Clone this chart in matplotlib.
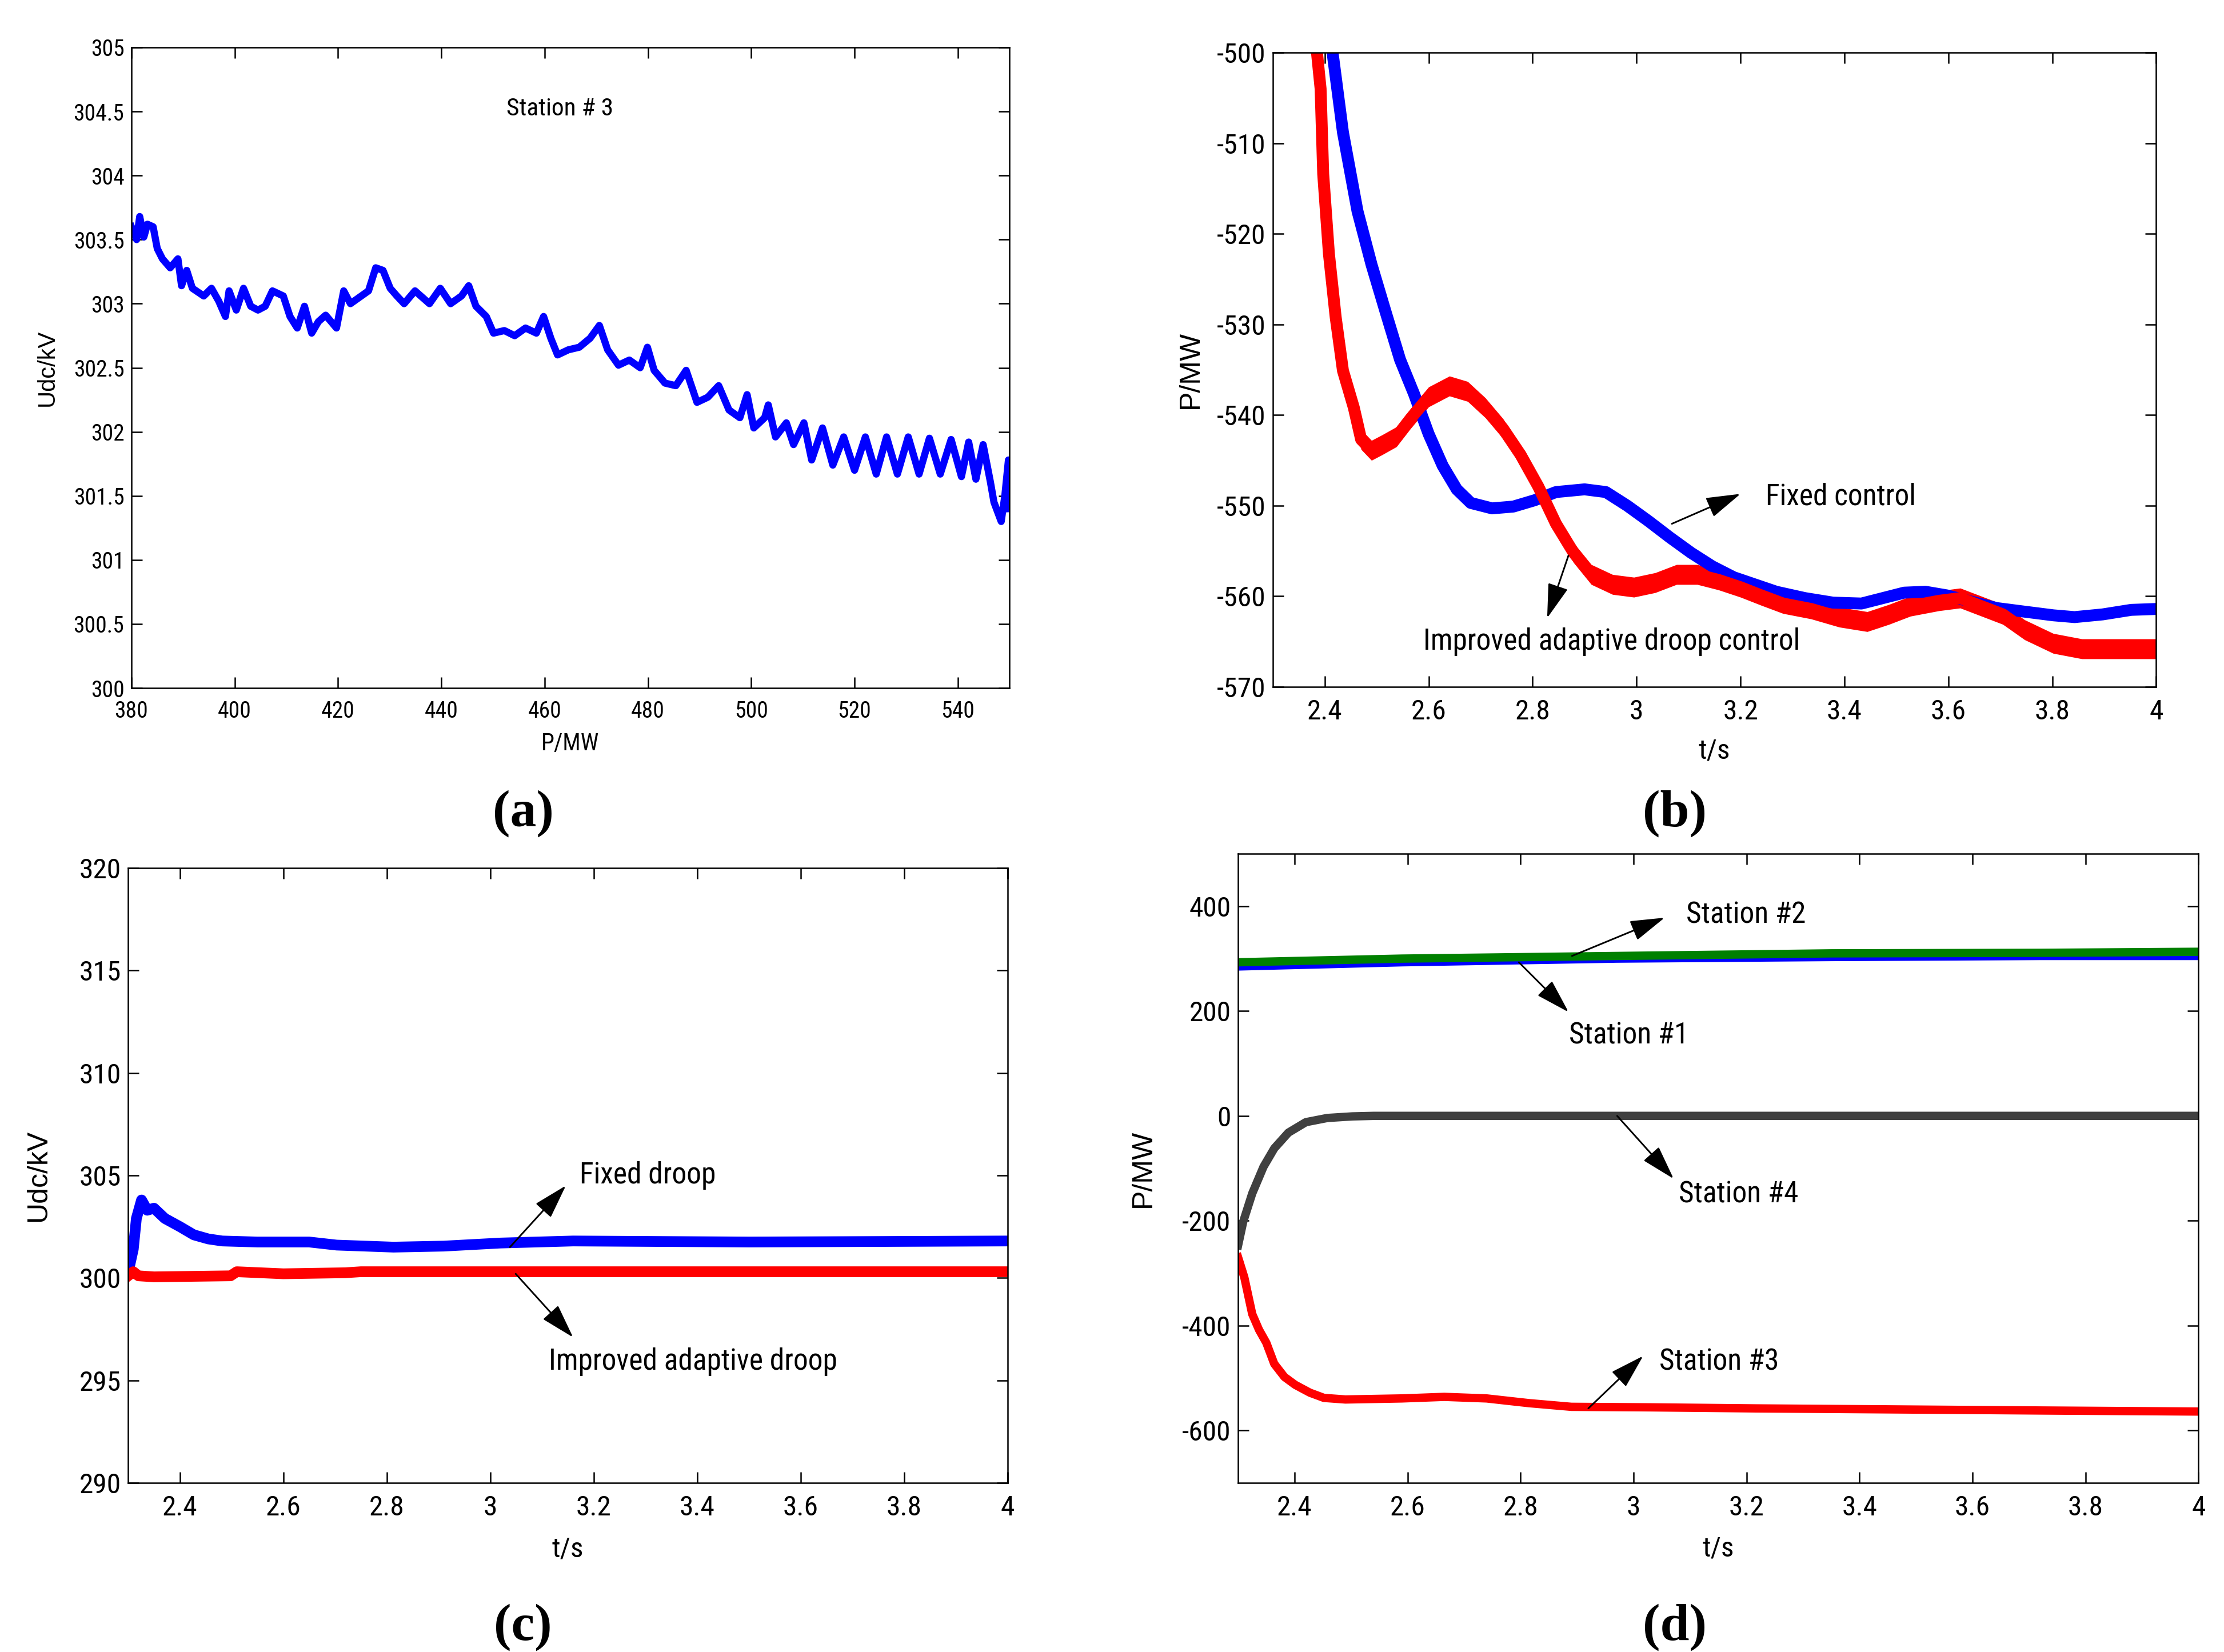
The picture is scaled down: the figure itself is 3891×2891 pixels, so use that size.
import numpy as np
import matplotlib
matplotlib.use('Agg')
import matplotlib.pyplot as plt
from matplotlib import font_manager
from matplotlib.ticker import FuncFormatter

# (a) Udc against P, station 3
a_p = [380, 381, 381.6, 382.4, 383.1, 384.2, 385, 386, 387.5, 389, 389.7, 390.7, 391.8, 394, 395.5,
       396.9, 398.2, 398.9, 400.3, 401.7, 403.1, 404.5, 405.9, 407.3, 409.4, 410.7, 412.1, 413.5, 414.9,
       416.2, 417.6, 419.7, 421.1, 422.4, 424.5, 425.9, 427.3, 428.7, 430.1, 431.4, 432.8, 434.9, 437.7,
       439.8, 441.8, 443.9, 445.3, 446.7, 448.7, 450.1, 452.2, 454.2, 456.3, 458.4, 459.8, 461.2, 462.5,
       464.6, 466.7, 468.8, 470.6, 472.2, 474.3, 476.4, 478.5, 479.9, 481.2, 483.3, 485.4, 487.4, 489.5,
       491.6, 493.7, 495.7, 497.8, 499.2, 500.5, 502.6, 503.3, 504.7, 506.8, 508.2, 510.2, 511.7, 513.8,
       515.8, 517.9, 520, 522.1, 524.2, 526.2, 528.3, 530.4, 532.5, 534.5, 536.6, 538.7, 540.7, 542.1,
       543.5, 544.9, 546.3, 547, 548.4, 549.1, 549.8, 550]
a_u = [303.6, 303.5, 303.68, 303.52, 303.62, 303.6, 303.43, 303.35, 303.28, 303.35, 303.14, 303.26,
       303.12, 303.06, 303.12, 303.02, 302.9, 303.1, 302.95, 303.12, 302.98, 302.95, 302.98, 303.1,
       303.06, 302.9, 302.81, 302.98, 302.77, 302.86, 302.91, 302.81, 303.1, 303.0, 303.06, 303.1,
       303.28, 303.26, 303.12, 303.06, 303.0, 303.1, 303.0, 303.12, 303.0, 303.06, 303.14, 302.98,
       302.9, 302.77, 302.79, 302.75, 302.81, 302.77, 302.9, 302.73, 302.6, 302.64, 302.66, 302.73,
       302.83, 302.64, 302.52, 302.56, 302.5, 302.66, 302.48, 302.38, 302.36, 302.48, 302.23, 302.27,
       302.36, 302.17, 302.11, 302.29, 302.03, 302.11, 302.21, 301.96, 302.07, 301.9, 302.07, 301.78,
       302.03, 301.74, 301.96, 301.7, 301.96, 301.67, 301.96, 301.67, 301.96, 301.67, 301.95, 301.67,
       301.94, 301.65, 301.92, 301.63, 301.9, 301.61, 301.45, 301.3, 301.5, 301.78, 301.4]
a_xticks = [380, 400, 420, 440, 460, 480, 500, 520, 540]
a_yticks = [300, 300.5, 301, 301.5, 302, 302.5, 303, 303.5, 304, 304.5, 305]

# (b) P of station 3, fixed control vs improved adaptive droop
b_t_fixed = [2.405, 2.415, 2.435, 2.463, 2.49, 2.517, 2.545, 2.572, 2.6, 2.627, 2.654, 2.681, 2.722,
             2.763, 2.804, 2.845, 2.9, 2.941, 2.982, 3.023, 3.064, 3.105, 3.146, 3.187, 3.228, 3.269,
             3.324, 3.378, 3.433, 3.474, 3.515, 3.556, 3.597, 3.638, 3.693, 3.747, 3.802, 3.843, 3.897,
             3.952, 4.0]
b_p_fixed = [-494, -500, -508.8, -517.5, -523.4, -528.6, -533.9, -537.7, -542.1, -545.6, -548.2, -549.7,
             -550.3, -550.1, -549.4, -548.5, -548.2, -548.5, -550, -551.7, -553.5, -555.2, -556.7,
             -557.9, -558.7, -559.5, -560.2, -560.7, -560.8, -560.2, -559.6, -559.5, -559.9, -560.5,
             -561.3, -561.7, -562.1, -562.3, -562, -561.5, -561.4]
b_t_adapt = [2.38, 2.385, 2.392, 2.397, 2.408, 2.421, 2.435, 2.456, 2.47, 2.49, 2.51, 2.538, 2.565, 2.6,
             2.64, 2.675, 2.709, 2.743, 2.777, 2.811, 2.845, 2.879, 2.913, 2.954, 2.995, 3.036, 3.077,
             3.117, 3.158, 3.2, 3.24, 3.282, 3.336, 3.39, 3.444, 3.486, 3.527, 3.582, 3.623, 3.664,
             3.705, 3.747, 3.802, 3.857, 3.91, 3.966, 4.0]
b_p_adapt = [-494, -500, -504, -513.4, -522.2, -529.2, -535.1, -539.2, -542.7, -543.9, -543.3, -542.4,
             -540.4, -538, -536.8, -537.4, -539.2, -541.5, -544.4, -547.9, -552, -555.2, -557.6,
             -558.7, -559, -558.5, -557.6, -557.6, -558.2, -559, -559.9, -560.8, -561.4, -562.3,
             -562.8, -562, -561.1, -560.5, -560.2, -561.1, -562, -563.7, -565.2, -565.8, -565.8,
             -565.8, -565.8]
b_yticks = [-570, -560, -550, -540, -530, -520, -510, -500]

# (c) Udc, fixed droop vs improved adaptive droop
c_t_fixed = [2.303, 2.31, 2.316, 2.326, 2.337, 2.35, 2.371, 2.4, 2.427, 2.455, 2.482, 2.55, 2.65,
             2.703, 2.813, 2.91, 3.02, 3.16, 3.5, 4.0]
c_u_fixed = [300.6, 301.4, 302.9, 303.8, 303.3, 303.4, 302.9, 302.5, 302.1, 301.9, 301.8, 301.75,
             301.75, 301.6, 301.5, 301.55, 301.7, 301.8, 301.75, 301.8]
c_t_adapt = [2.3, 2.31, 2.32, 2.35, 2.498, 2.51, 2.6, 2.72, 2.75, 3.0, 3.5, 4.0]
c_u_adapt = [300.1, 300.3, 300.1, 300.05, 300.1, 300.3, 300.2, 300.25, 300.3, 300.3, 300.3, 300.3]
c_yticks = [290, 295, 300, 305, 310, 315, 320]

# (d) P of the four stations
d_t_st12 = [2.3, 2.59, 2.97, 3.35, 3.72, 4.0]
d_p_st1 = [285, 293, 300, 303, 305, 305]
d_p_st2 = [293, 300, 305, 310, 311, 313]
d_t_st4 = [2.3, 2.309, 2.325, 2.345, 2.364, 2.389, 2.42, 2.458, 2.502, 2.54, 4.0]
d_p_st4 = [-247, -202, -148, -97, -62, -32, -12, -4, -1, 0, 0]
d_t_st3 = [2.3, 2.311, 2.325, 2.337, 2.35, 2.364, 2.382, 2.401, 2.427, 2.452, 2.49, 2.59, 2.665,
           2.74, 2.815, 2.89, 3.03, 3.216, 3.47, 3.72, 4.0]
d_p_st3 = [-270, -308, -378, -408, -433, -473, -498, -513, -528, -538, -541, -539, -536, -539,
           -548, -555, -556, -558, -560, -562, -564]
d_yticks = [-600, -400, -200, 0, 200, 400]

t_ticks = [2.4, 2.6, 2.8, 3.0, 3.2, 3.4, 3.6, 3.8, 4.0]

# fonts: MATLAB export looks like Arial Narrow, use the closest one installed
installed = {f.name for f in font_manager.fontManager.ttflist}
NARROW, k = 'Liberation Sans', 0.85
for name, scale in [('Liberation Sans Narrow', 1.0), ('Roboto Condensed', 0.95)]:
    if name in installed:
        NARROW, k = name, scale
        break
plt.rcParams['font.family'] = [NARROW, 'DejaVu Sans']

ARROW = dict(arrowstyle='-|>,head_length=0.5,head_width=0.15', color='k', lw=0.7,
             mutation_scale=25, shrinkA=0, shrinkB=0)
gfmt = FuncFormatter(lambda v, _: '%g' % v)

fig = plt.figure(figsize=(3891 / 300, 2891 / 300), dpi=300)


def style_axes(ax, size):
    ax.tick_params(direction='in', top=True, right=True, length=4.5, width=0.6, labelsize=size * k)
    ax.tick_params(axis='y', pad=3)
    ax.tick_params(axis='x', pad=5)
    ax.xaxis.set_major_formatter(gfmt)
    ax.yaxis.set_major_formatter(gfmt)
    for s in ax.spines.values():
        s.set_linewidth(0.6)


def labels(ax, xlab, ylab, xsize, ysize, xy, yx):
    ax.set_xlabel(xlab, fontsize=xsize * k)
    ax.xaxis.set_label_coords(0.5, xy)
    ax.xaxis.label.set_va('center')
    ax.set_ylabel(ylab, fontsize=ysize, family='Liberation Sans')
    ax.yaxis.set_label_coords(yx, 0.5)
    ax.yaxis.label.set_va('center')


# ---- (a)
ax = fig.add_axes([0.0591, 0.5835, 0.3948, 0.3878])
ax.plot(a_p, a_u, color='b', lw=3)
ax.set_xlim(380, 550)
ax.set_ylim(300, 305)
ax.set_xticks(a_xticks)
ax.set_yticks(a_yticks)
style_axes(ax, 10)
labels(ax, 'P/MW', 'Udc/kV', 10.5, 10, -0.087, -0.096)
ax.text(463, 304.52, 'Station # 3', ha='center', va='center', fontsize=11 * k)

# ---- (b)  ripple drawn as a band round each trace
ax = fig.add_axes([0.5723, 0.5842, 0.3972, 0.384])
tb, pb = np.array(b_t_fixed), np.array(b_p_fixed)
ax.fill_between(tb, pb - 0.5, pb + 0.5, color='b', lw=0)
ax.plot(tb, pb, color='b', lw=5)
tr, pr = np.array(b_t_adapt), np.array(b_p_adapt)
ax.fill_between(tr, pr - 1.1, pr + 1.1, color='r', lw=0)
ax.plot(tr, pr, color='r', lw=5)
ax.set_xlim(2.3, 4)
ax.set_ylim(-570, -500)
ax.set_xticks(t_ticks)
ax.set_yticks(b_yticks)
style_axes(ax, 12.5)
labels(ax, 't/s', 'P/MW', 12.5, 12, -0.101, -0.093)
ax.annotate('', xy=(3.2, -548.7), xytext=(3.068, -552), arrowprops=ARROW)
ax.text(3.248, -549, 'Fixed control', ha='left', va='center', fontsize=13 * k)
ax.annotate('', xy=(2.828, -562.4), xytext=(2.869, -555.5), arrowprops=ARROW)
ax.text(2.589, -565, 'Improved adaptive droop control', ha='left', va='center', fontsize=13 * k)

# ---- (c)
ax = fig.add_axes([0.0576, 0.1024, 0.3955, 0.3722])
ax.plot(c_t_fixed, c_u_fixed, color='b', lw=4.5)
ax.plot(c_t_adapt, c_u_adapt, color='r', lw=4.5)
ax.set_xlim(2.3, 4)
ax.set_ylim(290, 320)
ax.set_xticks(t_ticks)
ax.set_yticks(c_yticks)
style_axes(ax, 12.5)
labels(ax, 't/s', 'Udc/kV', 12.5, 12, -0.108, -0.102)
ax.annotate('', xy=(3.146, 304.5), xytext=(3.038, 301.5), arrowprops=ARROW)
ax.text(3.173, 305.0, 'Fixed droop', ha='left', va='center', fontsize=13 * k)
ax.annotate('', xy=(3.16, 297.1), xytext=(3.049, 300.2), arrowprops=ARROW)
ax.text(3.113, 295.9, 'Improved adaptive droop', ha='left', va='center', fontsize=13 * k)

# ---- (d)
ax = fig.add_axes([0.5567, 0.1024, 0.4318, 0.3808])
ax.plot(d_t_st12, d_p_st1, color='b', lw=3.5)
ax.plot(d_t_st12, d_p_st2, color='#008000', lw=3.5)
ax.plot(d_t_st4, d_p_st4, color='#404040', lw=3.5)
ax.plot(d_t_st3, d_p_st3, color='r', lw=3.5)
ax.set_xlim(2.3, 4)
ax.set_ylim(-700, 500)
ax.set_xticks(t_ticks)
ax.set_yticks(d_yticks)
style_axes(ax, 12.5)
labels(ax, 't/s', 'P/MW', 12.5, 12, -0.105, -0.099)
ax.annotate('', xy=(3.055, 378), xytext=(2.891, 305), arrowprops=ARROW)
ax.text(3.093, 383, 'Station #2', ha='left', va='center', fontsize=13 * k)
ax.annotate('', xy=(2.885, 198), xytext=(2.797, 293), arrowprops=ARROW)
ax.text(2.886, 153, 'Station #1', ha='left', va='center', fontsize=13 * k)
ax.annotate('', xy=(3.071, -120), xytext=(2.971, 0), arrowprops=ARROW)
ax.text(3.08, -150, 'Station #4', ha='left', va='center', fontsize=13 * k)
ax.annotate('', xy=(3.017, -458), xytext=(2.92, -558), arrowprops=ARROW)
ax.text(3.046, -470, 'Station #3', ha='left', va='center', fontsize=13 * k)

# panel letters
for letter, x, y in [('(a)', 915, 1424), ('(b)', 2930, 1424), ('(c)', 915, 2848), ('(d)', 2930, 2848)]:
    fig.text(x / 3891, 1 - y / 2891, letter, ha='center', va='center', fontsize=22,
             family='Liberation Serif', weight='bold')

fig.savefig('out.png', dpi=300, facecolor='white')
